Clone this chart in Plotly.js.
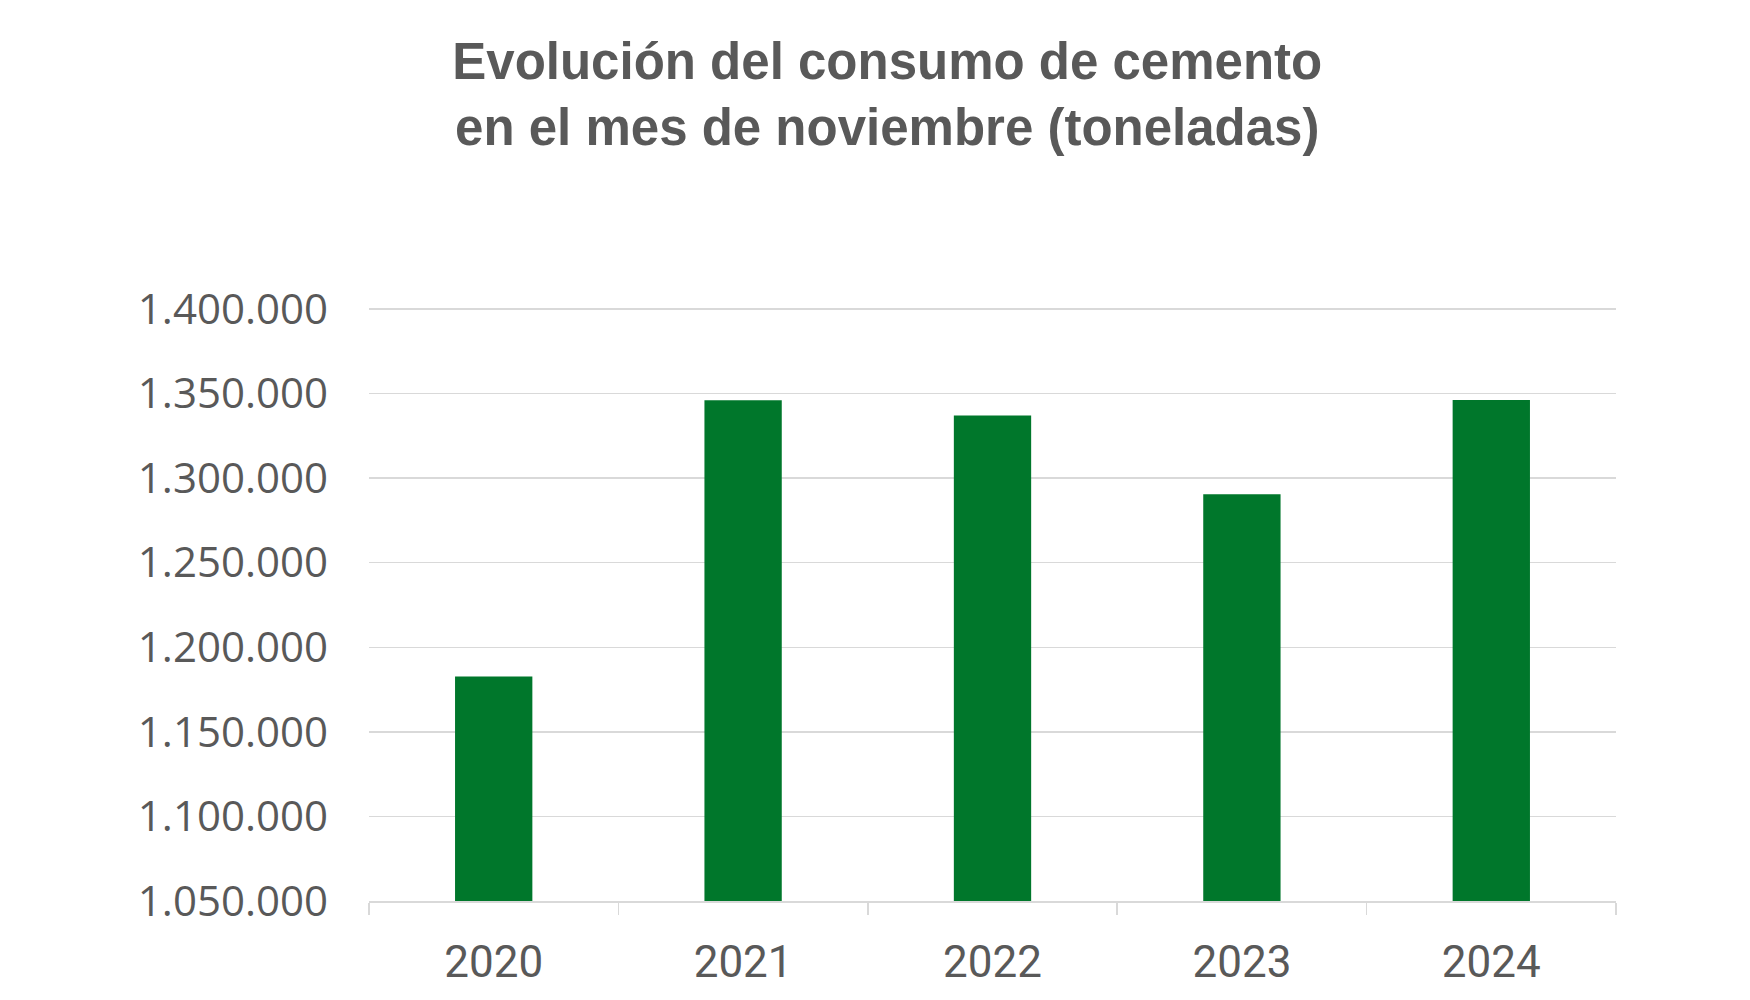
<!DOCTYPE html>
<html>
<head>
<meta charset="utf-8">
<script src="https://cdn.plot.ly/plotly-3.0.1.min.js"></script>
<style>html,body{margin:0;padding:0;background:#fff;}#chart{width:1750px;height:1000px;}</style>
</head>
<body>
<div id="chart"></div>
<script>
const years = ["2020", "2021", "2022", "2023", "2024"];
const consumo = [1182700, 1346000, 1337000, 1290500, 1346200];
const yTickVals = [1050000, 1100000, 1150000, 1200000, 1250000, 1300000, 1350000, 1400000];
const yTickText = ["1.050.000", "1.100.000", "1.150.000", "1.200.000", "1.250.000", "1.300.000", "1.350.000", "1.400.000"];
const titleText = "Evolución del consumo de cemento<br>en el mes de noviembre (toneladas)";
const axisFloor = 1050000;

const trace = {
  type: "bar",
  x: years,
  y: consumo.map(v => v - axisFloor),
  base: axisFloor,
  marker: { color: "#00772B" },
  hoverinfo: "x+y"
};

const layout = {
  width: 1750,
  height: 1000,
  paper_bgcolor: "#ffffff",
  plot_bgcolor: "#ffffff",
  margin: { l: 369, r: 134, t: 308, b: 99 },
  bargap: 0.69,
  showlegend: false,
  title: {
    text: titleText,
    font: { family: "Liberation Sans, Arial, sans-serif", size: 51, color: "#595959", weight: "bold" },
    x: 0.507,
    xanchor: "center",
    y: 0.921,
    yanchor: "top"
  },
  xaxis: {
    type: "category",
    showgrid: false,
    showline: true,
    linecolor: "#d9d9d9",
    linewidth: 1.5,
    ticks: "outside",
    tickson: "boundaries",
    ticklen: 12,
    tickcolor: "#d9d9d9",
    tickwidth: 1.5,
    ticklabelstandoff: 22,
    tickfont: { family: "Roboto, sans-serif", size: 44, color: "#595959" }
  },
  yaxis: {
    range: [axisFloor, 1400600],
    tickvals: yTickVals,
    ticktext: yTickText,
    showgrid: true,
    gridcolor: "#d9d9d9",
    gridwidth: 1.5,
    zeroline: false,
    showline: false,
    ticks: "",
    ticklabelstandoff: 40,
    tickfont: { family: "Open Sans, sans-serif", size: 42, color: "#595959" }
  }
};

Plotly.newPlot("chart", [trace], layout, { displayModeBar: false, staticPlot: true });
</script>
</body>
</html>
